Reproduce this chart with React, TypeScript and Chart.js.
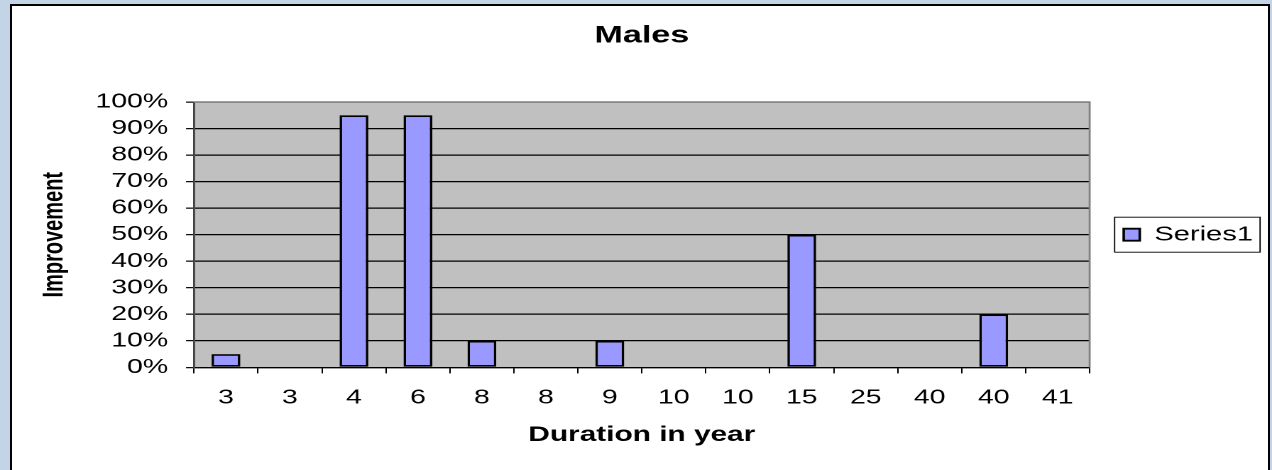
import React, { useEffect, useRef } from 'react';
import { Chart, registerables } from 'chart.js';

Chart.register(...registerables);

// ---- data ----
const categories = ['3', '3', '4', '6', '8', '8', '9', '10', '10', '15', '25', '40', '40', '41'];
const improvement = [5, 0, 95, 95, 10, 0, 10, 0, 0, 50, 0, 0, 20, 0];
const seriesName = 'Series1';
const chartTitle = 'Males';
const xTitle = 'Duration in year';
const yTitle = 'Improvement';
const yMin = 0;
const yMax = 100;
const yStep = 10;

// ---- geometry (canvas drawn narrow, then stretched horizontally like the source image) ----
const PAGE_W = 1272;
const PAGE_H = 470;
const CW = 896;
const CH = 470;
const SX = PAGE_W / CW;
const FONT = '"Liberation Sans", Arial, sans-serif';

const plotBg = {
  id: 'plotBg',
  beforeDraw(chart: any) {
    const { ctx, chartArea } = chart;
    if (!chartArea) return;
    ctx.save();
    ctx.fillStyle = '#C0C0C0';
    ctx.fillRect(chartArea.left, chartArea.top, chartArea.right - chartArea.left, chartArea.bottom - chartArea.top);
    ctx.restore();
  },
  afterDraw(chart: any) {
    const { ctx, chartArea } = chart;
    if (!chartArea) return;
    ctx.save();
    ctx.strokeStyle = '#808080';
    ctx.lineWidth = 1.4;
    ctx.beginPath();
    ctx.moveTo(chartArea.left, chartArea.top);
    ctx.lineTo(chartArea.right, chartArea.top);
    ctx.lineTo(chartArea.right, chartArea.bottom);
    ctx.stroke();
    ctx.restore();
  },
};

const legendBorder = {
  id: 'legendBorder',
  afterDraw(chart: any) {
    const lg = chart.legend;
    if (!lg || !lg.legendHitBoxes || !lg.legendHitBoxes.length) return;
    const hb = lg.legendHitBoxes[0];
    const cy = hb.top + hb.height / 2;
    const x0 = hb.left - 6.4;
    const x1 = hb.left + hb.width + 5;
    const { ctx } = chart;
    ctx.save();
    ctx.strokeStyle = '#000';
    ctx.lineWidth = 0.9;
    ctx.strokeRect(x0, cy - 17.5, x1 - x0, 35);
    ctx.restore();
  },
};

function ChartView() {
  const ref = useRef<HTMLCanvasElement | null>(null);
  useEffect(() => {
    document.body.style.margin = '0';
    if (!ref.current) return;
    const chart = new Chart(ref.current, {
      type: 'bar',
      data: {
        labels: categories,
        datasets: [
          {
            label: seriesName,
            data: improvement,
            backgroundColor: '#9999FF',
            borderColor: '#000000',
            borderWidth: 1.8,
            borderSkipped: false,
            barPercentage: 0.45,
            categoryPercentage: 1.0,
          },
        ],
      },
      options: {
        responsive: false,
        animation: false,
        devicePixelRatio: 2,
        layout: { padding: { left: 22.7, right: 3.4, top: 0, bottom: 22.4 } },
        plugins: {
          tooltip: { enabled: false },
          title: {
            display: true,
            text: chartTitle,
            fullSize: false,
            color: '#000',
            font: { family: FONT, size: 24, weight: 'bold' },
            padding: { top: 21.6, bottom: 51.6 },
          },
          legend: {
            position: 'right',
            fullSize: false,
            labels: {
              color: '#000',
              font: { family: FONT, size: 20.5 },
              boxWidth: 11.3,
              boxHeight: 12,
              padding: 24,
            },
          },
        },
        scales: {
          x: {
            offset: true,
            grid: {
              display: true,
              offset: true,
              drawOnChartArea: false,
              drawTicks: true,
              tickLength: 6,
              tickColor: '#000',
              tickWidth: 1,
            },
            border: { display: true, color: '#000', width: 1.3 },
            ticks: {
              color: '#000',
              font: { family: FONT, size: 20 },
              padding: 12.5,
              maxRotation: 0,
              minRotation: 0,
              autoSkip: false,
            },
            title: {
              display: true,
              text: xTitle,
              color: '#000',
              font: { family: FONT, size: 21, weight: 'bold' },
              padding: { top: 0, bottom: 0 },
            },
          },
          y: {
            min: yMin,
            max: yMax,
            grid: {
              color: (c: any) => (c.tick && c.tick.value === yMax ? '#808080' : '#000'),
              lineWidth: 1.3,
              tickLength: 5.6,
              tickColor: '#000',
              tickWidth: 1.2,
            },
            border: { display: true, color: '#404040', width: 1.4 },
            ticks: {
              stepSize: yStep,
              autoSkip: false,
              color: '#000',
              font: { family: FONT, size: 20 },
              padding: 12.7,
              callback: (v: any) => `${v}%`,
            },
            title: {
              display: true,
              text: yTitle,
              color: '#000',
              font: { family: FONT, size: 20, weight: 'bold' },
              padding: { top: 4, bottom: 3.8 },
            },
          },
        },
      },
      plugins: [plotBg, legendBorder],
    });
    return () => chart.destroy();
  }, []);

  return (
    <div
      style={{
        position: 'absolute',
        left: 0,
        top: 0,
        width: CW,
        height: CH,
        transform: `scaleX(${SX})`,
        transformOrigin: '0 0',
      }}
    >
      <canvas ref={ref} width={CW} height={CH} style={{ width: CW, height: CH, display: 'block' }} />
    </div>
  );
}

export default function App() {
  return (
    <div
      style={{
        position: 'relative',
        width: PAGE_W,
        height: PAGE_H,
        overflow: 'hidden',
        background: '#C3D4E6',
      }}
    >
      <div
        style={{
          position: 'absolute',
          left: 10,
          top: 4,
          width: 1260,
          height: 480,
          boxSizing: 'border-box',
          background: '#FFFFFF',
          borderTop: '2px solid #000',
          borderLeft: '2px solid #000',
          borderRight: '2px solid #000',
        }}
      />
      <ChartView />
    </div>
  );
}
